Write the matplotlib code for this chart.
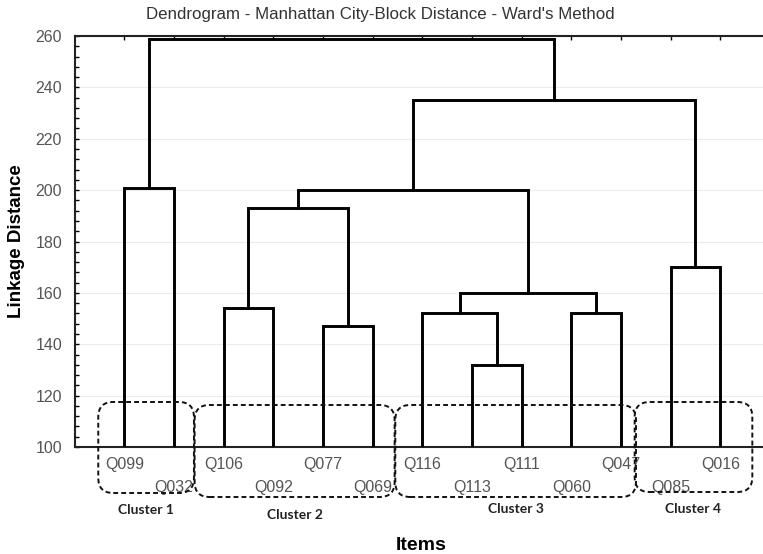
import matplotlib
matplotlib.use("Agg")
import matplotlib.pyplot as plt
from matplotlib.patches import FancyBboxPatch
from matplotlib.transforms import IdentityTransform
from matplotlib.ticker import MultipleLocator

# leaves in plotting order
items = ["Q099", "Q032", "Q106", "Q092", "Q077", "Q069", "Q116",
         "Q113", "Q111", "Q060", "Q047", "Q085", "Q016"]

# ward linkage: (left node, right node, distance); new nodes numbered from 13
merge_left = [7, 2, 4, 6, 9, 16, 11, 14, 20, 0, 21, 22]
merge_right = [8, 3, 5, 13, 10, 17, 12, 15, 18, 1, 19, 23]
merge_dist = [132, 154, 147, 152, 152, 160, 170, 193, 200, 201, 235, 259]

cluster_names = ["Cluster 1", "Cluster 2", "Cluster 3", "Cluster 4"]
cluster_first = [0, 2, 6, 11]
cluster_last = [1, 5, 10, 12]

yticks = [100, 120, 140, 160, 180, 200, 220, 240, 260]

W, H = 763, 554
fig = plt.figure(figsize=(W / 100, H / 100), dpi=100)
plt.rcParams["font.family"] = ["Liberation Sans", "DejaVu Sans"]
ax = fig.add_axes([74.6 / W, (H - 447) / H, 695.4 / W, 411 / H])

ax.set_xlim(0, 14)
ax.set_ylim(100, 260)
base = 100

# node positions: leaves at 1..n, internal nodes at children midpoints
xs = {i: i + 1 for i in range(len(items))}
ys = {i: base for i in range(len(items))}
node = len(items)
for a, b, d in zip(merge_left, merge_right, merge_dist):
    ax.plot([xs[a], xs[a], xs[b], xs[b]], [ys[a], d, d, ys[b]],
            color="black", lw=2.1, solid_joinstyle="miter", zorder=3)
    xs[node] = (xs[a] + xs[b]) / 2
    ys[node] = d
    node += 1

ax.set_yticks(yticks)
ax.yaxis.set_minor_locator(MultipleLocator(4))
ax.grid(axis="y", color="#ececec", lw=0.8)
ax.set_axisbelow(True)
ax.tick_params(axis="y", which="both", direction="in", length=3, width=1,
               labelsize=11.5, labelcolor="#555555", pad=9)

leaf_pos = [i + 1 for i in range(len(items))]
ax.set_xticks(leaf_pos, items)
ax.tick_params(axis="x", which="major", direction="in", length=0,
               labelsize=11.5, labelcolor="#555555", pad=7)
for k, t in enumerate(ax.xaxis.get_major_ticks()):
    if k % 2 == 1:
        t.set_pad(24)

# small inward ticks along the top edge
sec = ax.secondary_xaxis("top")
sec.set_xticks(leaf_pos)
sec.tick_params(direction="in", length=3, width=1, labeltop=False)
sec.spines["top"].set_visible(False)

for s in ax.spines.values():
    s.set_color("#222222")
    s.set_linewidth(1.5)

ax.set_ylabel("Linkage Distance", fontsize=13.5, fontweight="bold")
ax.yaxis.set_label_coords(-0.071, 0.5)
fig.text(421 / W, 1 - 545 / H, "Items", fontsize=14, fontweight="bold",
         ha="center", va="center")
fig.text(380 / W, 1 - 15 / H,
         "Dendrogram - Manhattan City-Block Distance - Ward's Method",
         fontsize=12.2, color="#333333", ha="center", va="center")

# dashed rounded frames around the four clusters (pixel layout)
pad_left = [26, 29, 27, 36]
pad_right = [20, 22, 15, 32]
top_gap = [45, 42, 42, 45]
bot_gap = [46, 50, 50, 45]
label_gap = [17, 18, 12, 17]
fig.canvas.draw()
for name, f, l, pl, pr, tg, bg, lg in zip(cluster_names, cluster_first,
                                          cluster_last, pad_left, pad_right,
                                          top_gap, bot_gap, label_gap):
    x0 = ax.transData.transform((leaf_pos[f], base))[0] - pl
    x1 = ax.transData.transform((leaf_pos[l], base))[0] + pr
    yb = ax.transData.transform((0, base))[1]
    box = FancyBboxPatch((x0, yb - bg), x1 - x0, tg + bg,
                         boxstyle="round,pad=0,rounding_size=15",
                         transform=IdentityTransform(), fill=False,
                         ls=(0, (2.5, 1.6)), lw=1.4, ec="#111111", zorder=5)
    fig.add_artist(box)
    fig.text((x0 + x1) / 2 / W, (yb - bg - lg) / H, name, fontsize=10,
             fontweight="bold", family=["Lato", "DejaVu Sans"],
             ha="center", va="center", color="#222222")

fig.savefig("out.png", dpi=100)
